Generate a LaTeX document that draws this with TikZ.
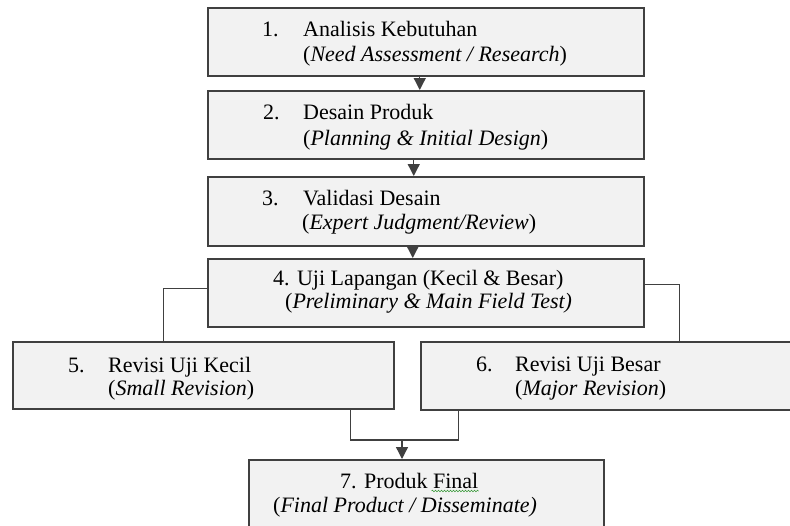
\documentclass[tikz,border=0pt]{standalone}
\usepackage{fontspec}
\setmainfont{Liberation Serif}
\usetikzlibrary{arrows.meta,decorations.pathmorphing}
\definecolor{boxfill}{HTML}{F2F2F2}
\definecolor{boxline}{HTML}{404040}
\definecolor{spell}{HTML}{3A9A3A}
\begin{document}
\begin{tikzpicture}[x=1pt,y=-1pt,
  box/.style={draw=boxline, fill=boxfill, line width=1.5pt, inner sep=0pt, anchor=north west},
  txt/.style={anchor=base west, inner sep=0pt, font=\fontsize{22}{26}\selectfont},
  link/.style={draw=boxline, line width=1.3pt},
  arr/.style={link, -{Triangle[length=12pt,width=12pt]}}]
\useasboundingbox (0,0) rectangle (790,525);
% boxes
\node[box, minimum width=436pt, minimum height=68pt] (b1) at (207,7) {};
\node[box, minimum width=436pt, minimum height=68pt] (b2) at (207,90) {};
\node[box, minimum width=436pt, minimum height=69pt] (b3) at (207,176) {};
\node[box, minimum width=436pt, minimum height=68pt] (b4) at (207,258) {};
\node[box, minimum width=381pt, minimum height=67pt] (b5) at (12,341) {};
\node[box, minimum width=374pt, minimum height=68pt] (b6) at (420,341) {};
\node[box, minimum width=355pt, minimum height=76pt] (b7) at (248,459) {};
% texts
\node[txt] (n1) at (262,36) {1.};
\node[txt] (t1a) at (303,36) {Analisis Kebutuhan};
\node[txt] (t1b) at (303,61) {(\textit{Need Assessment / Research})};
\node[txt] (n2) at (263,119) {2.};
\node[txt] (t2a) at (303,119) {Desain Produk};
\node[txt] (t2b) at (303,145) {(\textit{Planning \& Initial Design})};
\node[txt] (n3) at (262,205) {3.};
\node[txt] (t3a) at (303,205) {Validasi Desain};
\node[txt] (t3b) at (302,229) {(\textit{Expert Judgment/Review})};
\node[txt] (t4a) at (273,285) {4. Uji Lapangan (Kecil \& Besar)};
\node[txt] (t4b) at (285,308) {(\textit{Preliminary \& Main Field Test)}};
\node[txt] (n5) at (68,372) {5.};
\node[txt] (t5a) at (108,372) {Revisi Uji Kecil};
\node[txt] (t5b) at (108,395) {(\textit{Small Revision})};
\node[txt] (n6) at (476,371) {6.};
\node[txt] (t6a) at (515,371) {Revisi Uji Besar};
\node[txt] (t6b) at (515,395) {(\textit{Major Revision})};
\node[txt] (t7a) at (340,488) {7. Produk Final};
\node[txt] (t7b) at (273,512) {(\textit{Final Product / Disseminate)}};
\draw[spell, line width=0.6pt, decorate, decoration={snake, amplitude=0.8pt, segment length=3pt}]
  ([xshift=-47pt,yshift=-3pt]t7a.base east) -- ([yshift=-3pt]t7a.base east);
% connectors
\draw[arr] ([xshift=-6pt]b1.south) -- ([xshift=-6pt]b2.north);
\draw[arr] ([xshift=-12pt]b2.south) -- ([xshift=-12pt]b3.north);
\draw[arr] ([xshift=-13pt]b3.south) -- ([xshift=-13pt]b4.north);
\draw[link] ([yshift=4pt]b4.west) -| ([xshift=-39.5pt]b5.north);
\draw[link] ([yshift=8pt]b4.east) -| ([xshift=72pt]b6.north);
\coordinate (m) at (402,440);
\draw[link] ([xshift=147.5pt]b5.south) |- (m) -| ([xshift=-149pt]b6.south);
\draw[arr] (m) -- (m |- b7.north);
\end{tikzpicture}
\end{document}
